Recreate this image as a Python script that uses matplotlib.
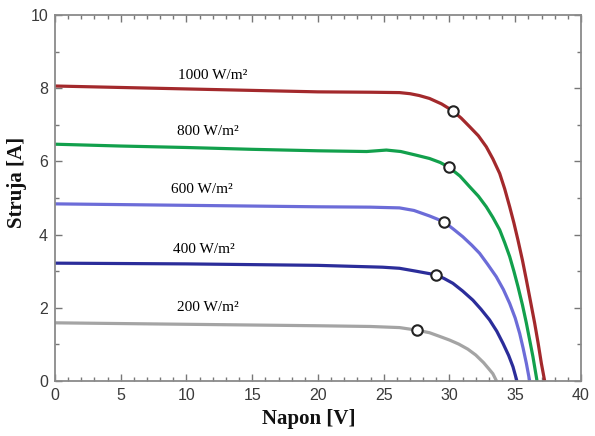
import numpy as np
import matplotlib
matplotlib.use('Agg')
import matplotlib.pyplot as plt
from matplotlib.ticker import MultipleLocator

# values (V, A)
v_1000 = [0, 5, 10, 15, 20, 24, 26.2, 27.0, 27.7, 28.48, 29.4, 30.26, 30.9, 31.53, 32.2,
          32.8, 33.3, 33.82, 34.2, 34.58, 34.9, 35.21, 35.55, 35.85, 36.15, 36.48, 36.75,
          36.99, 37.24]
i_1000 = [8.06, 8.02, 7.98, 7.94, 7.90, 7.89, 7.88, 7.85, 7.80, 7.72, 7.57, 7.38, 7.18, 6.95,
          6.70, 6.40, 6.07, 5.67, 5.25, 4.76, 4.32, 3.85, 3.30, 2.76, 2.20, 1.58, 1.02,
          0.48, 0]

v_800 = [0, 5, 10, 15, 20, 23.7, 25.2, 26.3, 27.47, 28.48, 29.3, 29.96, 30.8, 31.53, 32.2,
         32.8, 33.3, 33.82, 34.2, 34.58, 34.9, 35.21, 35.55, 35.85, 36.1, 36.35, 36.66]
i_800 = [6.47, 6.42, 6.38, 6.33, 6.29, 6.27, 6.31, 6.27, 6.17, 6.08, 5.97, 5.84, 5.60, 5.31,
         5.05, 4.76, 4.47, 4.13, 3.78, 3.40, 3.00, 2.58, 2.08, 1.58, 1.12, 0.66, 0]

v_600 = [0, 5, 10, 15, 20, 24, 26.2, 27.3, 28.48, 29.58, 30.3, 31.02, 31.7, 32.29, 32.9,
         33.56, 34.1, 34.58, 35.0, 35.34, 35.6, 35.85, 36.1]
i_600 = [4.84, 4.82, 4.80, 4.78, 4.76, 4.75, 4.73, 4.66, 4.51, 4.35, 4.15, 3.94, 3.71, 3.49,
         3.19, 2.85, 2.50, 2.12, 1.72, 1.30, 0.90, 0.48, 0]

v_400 = [0, 5, 10, 15, 20, 24.9, 26.2, 27.47, 28.99, 29.6, 30.26, 31.0, 31.78, 32.4, 33.05,
         33.6, 34.07, 34.5, 34.83, 35.13]
i_400 = [3.22, 3.21, 3.20, 3.18, 3.16, 3.11, 3.08, 3.00, 2.90, 2.80, 2.67, 2.46, 2.21, 1.96,
         1.67, 1.36, 1.03, 0.70, 0.39, 0]

v_200 = [0, 5, 10, 15, 20, 24, 26.2, 27.52, 28.48, 29.25, 30.0, 30.7, 31.4, 32.0, 32.6,
         33.0, 33.3, 33.58]
i_200 = [1.59, 1.57, 1.55, 1.53, 1.51, 1.49, 1.46, 1.39, 1.32, 1.22, 1.12, 1.01, 0.87, 0.71,
         0.50, 0.33, 0.20, 0]

# maximum power points
mpp_v = [30.26, 29.96, 29.58, 28.99, 27.52]
mpp_i = [7.38, 5.84, 4.35, 2.90, 1.39]

labels = ['1000 W/m²', '800 W/m²', '600 W/m²', '400 W/m²', '200 W/m²']
label_x = [12.0, 11.6, 11.2, 11.3, 11.65]
label_y = [8.36, 6.81, 5.22, 3.58, 2.01]
colors = ['#a3292c', '#12a04c', '#6c6cd8', '#2b2d9a', '#a4a4a4']

curves = [(v_1000, i_1000), (v_800, i_800), (v_600, i_600), (v_400, i_400), (v_200, i_200)]

fig = plt.figure(figsize=(5.95, 4.36), dpi=100)
ax = fig.add_axes([0.0924, 0.1261, 0.8840, 0.8395])

for (v, i), c in zip(curves, colors):
    ax.plot(v, i, color=c, lw=2.3, solid_capstyle='butt', solid_joinstyle='round', zorder=2)

ax.plot(mpp_v, mpp_i, 'o', ms=7.5, mfc='white', mec='#222222', mew=1.5, zorder=3)

for txt, x, y in zip(labels, label_x, label_y):
    ax.text(x, y, txt, ha='center', va='center', fontsize=11,
            family='Liberation Serif', color='black')

ax.set_xlim(0, 40)
ax.set_ylim(0, 10)
ax.xaxis.set_major_locator(MultipleLocator(5))
ax.xaxis.set_minor_locator(MultipleLocator(1))
ax.yaxis.set_major_locator(MultipleLocator(2))
ax.yaxis.set_minor_locator(MultipleLocator(1))
ax.tick_params(which='both', direction='in', top=True, right=True, color='#777777', width=1)
ax.tick_params(which='major', length=5, pad=5, labelsize=11.5, labelcolor='#3a3a3a')
ax.tick_params(which='minor', length=2.8)
for lab in ax.get_xticklabels() + ax.get_yticklabels():
    lab.set_family('Liberation Sans')
for sp in ax.spines.values():
    sp.set_color('#8a8a8a')
    sp.set_linewidth(1.3)

fig.text(309 / 595, 1 - 419 / 436, 'Napon [V]', ha='center', va='center',
         fontsize=15, fontweight='bold', family='Liberation Serif', color='#111111')
fig.text(17 / 595, 1 - 182 / 436, 'Struja [A]', ha='center', va='center', rotation=90,
         fontsize=15, fontweight='bold', family='Liberation Serif', color='#111111')

fig.savefig('out.png', dpi=100)
